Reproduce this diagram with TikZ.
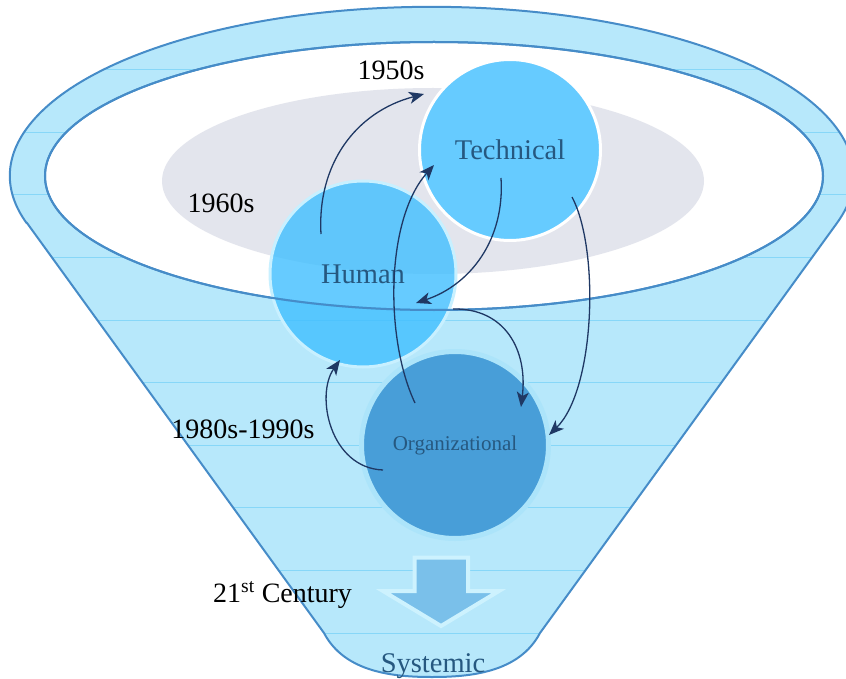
\documentclass[tikz,border=0pt]{standalone}
\usepackage{fontspec}
\setmainfont{Liberation Serif}
\usepackage{xcolor}
\usetikzlibrary{arrows.meta, positioning, calc}

\definecolor{funnelfill}{RGB}{183,232,251}
\definecolor{funnelline}{RGB}{70,140,200}
\definecolor{stripe}{RGB}{135,215,248}
\definecolor{haze}{RGB}{227,229,237}
\definecolor{techblue}{RGB}{102,203,255}
\definecolor{humanblue}{RGB}{64,191,255}
\definecolor{orgblue}{RGB}{72,158,216}
\definecolor{orgrim}{RGB}{172,228,250}
\definecolor{labelblue}{RGB}{38,88,128}
\definecolor{flowblue}{RGB}{31,56,100}
\definecolor{drop}{RGB}{122,192,234}
\definecolor{droprim}{RGB}{205,242,254}

\tikzset{
  era/.style={font=\fontsize{28}{30}\selectfont, anchor=base, inner sep=0pt},
  stage/.style={circle, inner sep=0pt, text=labelblue, font=\fontsize{28.5}{30}\selectfont},
  flow/.style={draw=flowblue, line width=1.3pt, -{Stealth[length=15pt,width=12pt,inset=4pt]}},
}

\begin{document}
\begin{tikzpicture}[x=1pt, y=-1pt]

\useasboundingbox (0,0) rectangle (846,679);

\def\funnel{(27,223) -- (324,633) .. controls (345,673) and (395,677) .. (432,677) .. controls (469,677) and (519,673) .. (540,633) -- (837,223) arc[start angle=16.2, end angle=-196.2, x radius=422, y radius=169] -- cycle}

% funnel body
\fill[funnelfill] \funnel;
\begin{scope}
  \clip \funnel;
  \foreach \k in {1,...,10} {
    \draw[stripe, line width=1pt] (0,7+62.6*\k) -- (846,7+62.6*\k);
  }
\end{scope}
\draw[funnelline, line width=2pt] \funnel;

% opening of the funnel
\draw[funnelline, line width=2pt, fill=white] (434,176) ellipse [x radius=389, y radius=134];
\fill[haze] (433,181) ellipse [x radius=271, y radius=93];

% stages
\node[stage, minimum size=186, fill=humanblue, fill opacity=0.8, text opacity=1, draw={rgb,255:red,200;green,240;blue,255}, draw opacity=1, line width=3pt] (human) at (363,274) {Human};
\draw[funnelline, line width=2pt] (434,176) ellipse [x radius=389, y radius=134];
\node[stage, minimum size=181, fill=techblue, draw=white, line width=3pt] (tech) at (510,150) {Technical};
\node[stage, minimum size=187, fill=orgblue, draw=orgrim, line width=5pt, font=\fontsize{21}{23}\selectfont] (org) at (455,445) {Organizational};

% down arrow to the outlet
\draw[droprim, fill=drop, line width=4pt, line join=miter] (414.5,557.5) -- (468,557.5) -- (468,591) -- (499,591) -- (441,626) -- (383,591) -- (414.5,591) -- cycle;
\node[era, text=labelblue, font=\fontsize{28.5}{30}\selectfont] (sys) at (433,672) {Systemic};

% eras
\node[era] (e50) at (391,80) {1950s};
\node[era] (e60) at (221,213) {1960s};
\node[era] (e80) at (243,438) {1980s-1990s};
\node[era, anchor=base west] (e21) at (213,602) {21\textsuperscript{st} Century};

% transitions
\draw[flow] ($(human)+(-42,-40)$) .. controls (317,165) and (355,112) .. ($(tech)+(-86,-56)$);
\draw[flow] ($(tech)+(-9,28)$) .. controls (505,240) and (470,285) .. ($(human)+(53,29)$);
\draw[flow] ($(org)+(-40,-42)$) .. controls (385,340) and (385,220) .. ($(tech)+(-76,15)$);
\draw[flow] ($(tech)+(62,47)$) .. controls (600,250) and (595,390) .. ($(org)+(94,-10)$);
\draw[flow] ($(human)+(90,35)$) .. controls (505,308) and (528,350) .. ($(org)+(66,-38)$);
\draw[flow] ($(org)+(-72,25)$) .. controls (330,468) and (315,395) .. ($(human)+(-23,86)$);

\end{tikzpicture}
\end{document}
